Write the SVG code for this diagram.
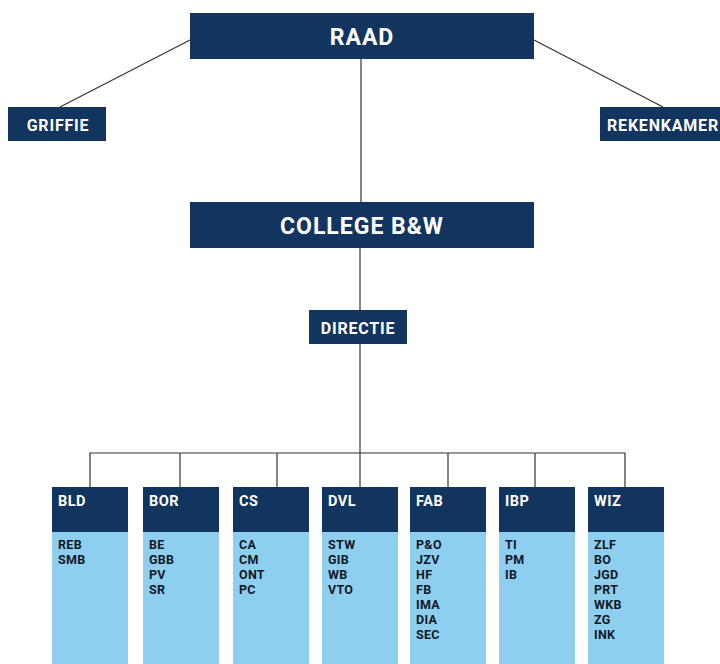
<svg xmlns="http://www.w3.org/2000/svg" width="720" height="664" viewBox="0 0 720 664">
<style>
.dk{fill:#12355f}
.lt{fill:#8ecff0}
.t{font-family:Roboto,"Liberation Sans",sans-serif;font-weight:bold;fill:#fff}
.big{font-size:23px;text-anchor:middle;letter-spacing:1px}
.mid{font-size:16px;text-anchor:middle;letter-spacing:0.8px}
.hd{font-size:14.5px;letter-spacing:0.5px}
.it{font-family:Roboto,"Liberation Sans",sans-serif;font-weight:bold;font-size:12.5px;fill:#111827;letter-spacing:0.3px}
.c{stroke:#333;stroke-width:1.2;fill:none}
</style>
<g id="connectors">
<line class="c" x1="190" y1="40" x2="60" y2="107"/>
<line class="c" x1="534" y1="40" x2="663" y2="107"/>
<line class="c" x1="361" y1="59" x2="361" y2="202"/>
<line class="c" x1="360" y1="248" x2="360" y2="310"/>
<line class="c" x1="360" y1="344" x2="360" y2="453"/>
<polyline class="c" points="90,487 90,453 625,453 625,487"/>
<line class="c" x1="180" y1="453" x2="180" y2="487"/>
<line class="c" x1="277" y1="453" x2="277" y2="487"/>
<line class="c" x1="360" y1="453" x2="360" y2="487"/>
<line class="c" x1="448" y1="453" x2="448" y2="487"/>
<line class="c" x1="535" y1="453" x2="535" y2="487"/>
</g>
<g id="raad"><rect class="dk" x="190" y="13" width="344" height="46"/><text class="t big" x="362" y="45">RAAD</text></g>
<g id="griffie"><rect class="dk" x="8" y="107" width="98" height="34"/><text class="t mid" x="58" y="131">GRIFFIE</text></g>
<g id="rekenkamer"><rect class="dk" x="600" y="107" width="120" height="34"/><text class="t mid" x="663" y="131">REKENKAMER</text></g>
<g id="college"><rect class="dk" x="190" y="202" width="344" height="46"/><text class="t big" x="362" y="234">COLLEGE B&amp;W</text></g>
<g id="directie"><rect class="dk" x="309" y="310" width="98" height="34"/><text class="t mid" x="358" y="334">DIRECTIE</text></g>
<g id="bld"><rect class="lt" x="52" y="532" width="76" height="132"/><rect class="dk" x="52" y="487" width="76" height="45"/><text class="t hd" x="58" y="506">BLD</text><text class="it" x="58" y="549">REB</text><text class="it" x="58" y="564">SMB</text></g>
<g id="bor"><rect class="lt" x="143" y="532" width="76" height="132"/><rect class="dk" x="143" y="487" width="76" height="45"/><text class="t hd" x="149" y="506">BOR</text><text class="it" x="149" y="549">BE</text><text class="it" x="149" y="564">GBB</text><text class="it" x="149" y="579">PV</text><text class="it" x="149" y="594">SR</text></g>
<g id="cs"><rect class="lt" x="233" y="532" width="76" height="132"/><rect class="dk" x="233" y="487" width="76" height="45"/><text class="t hd" x="239" y="506">CS</text><text class="it" x="239" y="549">CA</text><text class="it" x="239" y="564">CM</text><text class="it" x="239" y="579">ONT</text><text class="it" x="239" y="594">PC</text></g>
<g id="dvl"><rect class="lt" x="322" y="532" width="76" height="132"/><rect class="dk" x="322" y="487" width="76" height="45"/><text class="t hd" x="328" y="506">DVL</text><text class="it" x="328" y="549">STW</text><text class="it" x="328" y="564">GIB</text><text class="it" x="328" y="579">WB</text><text class="it" x="328" y="594">VTO</text></g>
<g id="fab"><rect class="lt" x="410" y="532" width="76" height="132"/><rect class="dk" x="410" y="487" width="76" height="45"/><text class="t hd" x="416" y="506">FAB</text><text class="it" x="416" y="549">P&amp;O</text><text class="it" x="416" y="564">JZV</text><text class="it" x="416" y="579">HF</text><text class="it" x="416" y="594">FB</text><text class="it" x="416" y="609">IMA</text><text class="it" x="416" y="624">DIA</text><text class="it" x="416" y="639">SEC</text></g>
<g id="ibp"><rect class="lt" x="499" y="532" width="76" height="132"/><rect class="dk" x="499" y="487" width="76" height="45"/><text class="t hd" x="505" y="506">IBP</text><text class="it" x="505" y="549">TI</text><text class="it" x="505" y="564">PM</text><text class="it" x="505" y="579">IB</text></g>
<g id="wiz"><rect class="lt" x="588" y="532" width="76" height="132"/><rect class="dk" x="588" y="487" width="76" height="45"/><text class="t hd" x="594" y="506">WIZ</text><text class="it" x="594" y="549">ZLF</text><text class="it" x="594" y="564">BO</text><text class="it" x="594" y="579">JGD</text><text class="it" x="594" y="594">PRT</text><text class="it" x="594" y="609">WKB</text><text class="it" x="594" y="624">ZG</text><text class="it" x="594" y="639">INK</text></g>
</svg>
